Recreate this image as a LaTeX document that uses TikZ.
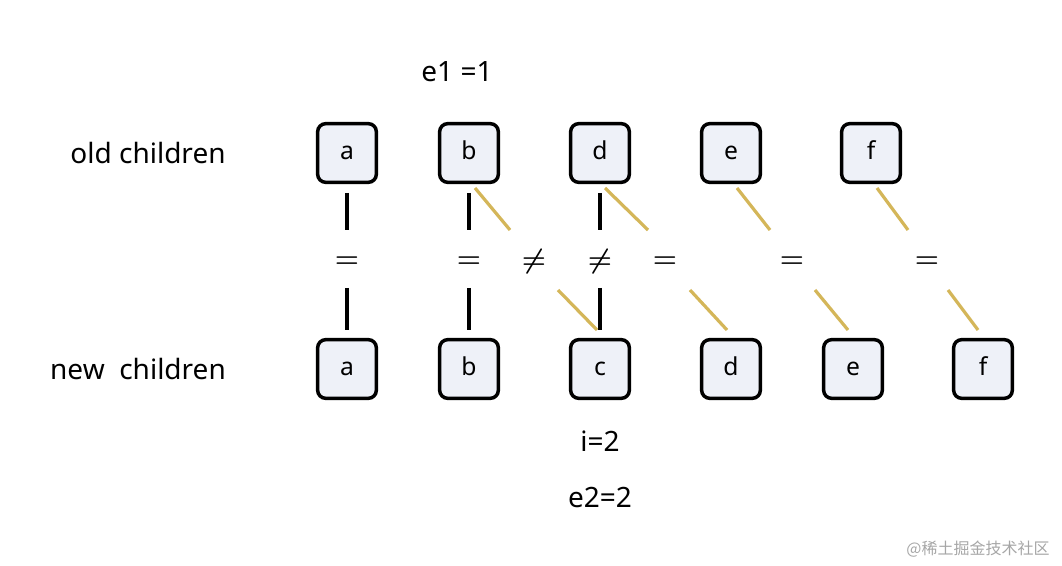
\documentclass[tikz,border=0pt]{standalone}
\usepackage{fontspec}
\setmainfont{Noto Sans}
\newfontfamily\cjk{Noto Sans CJK SC}
\definecolor{boxfill}{HTML}{EEF1F8}
\definecolor{gold}{HTML}{D4B659}
\tikzset{
  kid/.style={draw=black,line width=2.6pt,rounded corners=6pt,fill=boxfill,
    minimum width=44pt,minimum height=44pt,text height=13pt,text depth=3pt,
    font=\fontsize{18.5}{18.5}\selectfont},
  lbl/.style={font=\fontsize{21}{21}\selectfont},
  cmpsign/.style={font=\fontsize{22}{22}\selectfont\boldmath},
  same/.style={line width=2.6pt,black},
  diff/.style={line width=2.4pt,gold},
}
\begin{document}
\begin{tikzpicture}[x=0.75pt,y=-0.75pt]
  \useasboundingbox (0,0) rectangle (1062,566);
  % labels
  \node[lbl] (e1) at (457,72) {e1 =1};
  \node[lbl] (oldl) at (148,153) {old children};
  \node[lbl] (newl) at (138,369) {new\ \ children};
  \node[lbl] (ii) at (600,441) {i=2};
  \node[lbl] (e2) at (600,498) {e2=2};
  \node[text=gray!70,font=\cjk\fontsize{12}{12}\selectfont] (wm) at (978,549) {@稀土掘金技术社区};
  % old children
  \node[kid] (oa) at (347,153) {a};
  \node[kid] (ob) at (469,153) {b};
  \node[kid] (od) at (600,153) {d};
  \node[kid] (oe) at (731,153) {e};
  \node[kid] (of) at (871,153) {f};
  % new children
  \node[kid] (na) at (347,369) {a};
  \node[kid] (nb) at (469,369) {b};
  \node[kid] (nc) at (600,369) {c};
  \node[kid] (nd) at (731,369) {d};
  \node[kid] (ne) at (853,369) {e};
  \node[kid] (nf) at (983,369) {f};
  % comparison marks
  \foreach \x/\s/\n in {347/=/q1,469/=/q2,534/\neq/q3,600/\neq/q4,665/=/q5,792/=/q6,927/=/q7}
    \node[cmpsign] (\n) at (\x,262) {$\s$};
  % straight matches
  \foreach \x/\t in {347/330,469/330,600/330}{
    \draw[same] (\x,193) -- (\x,230);
    \draw[same] (\x,288) -- (\x,\t);
  }
  % shifted matches
  \foreach \a/\b/\c/\d in {475/510/558/597,605/648/690/727,737/770/815/848,877/908/948/978}{
    \draw[diff] (\a,188) -- (\b,230);
    \draw[diff] (\c,290) -- (\d,330);
  }
\end{tikzpicture}
\end{document}
